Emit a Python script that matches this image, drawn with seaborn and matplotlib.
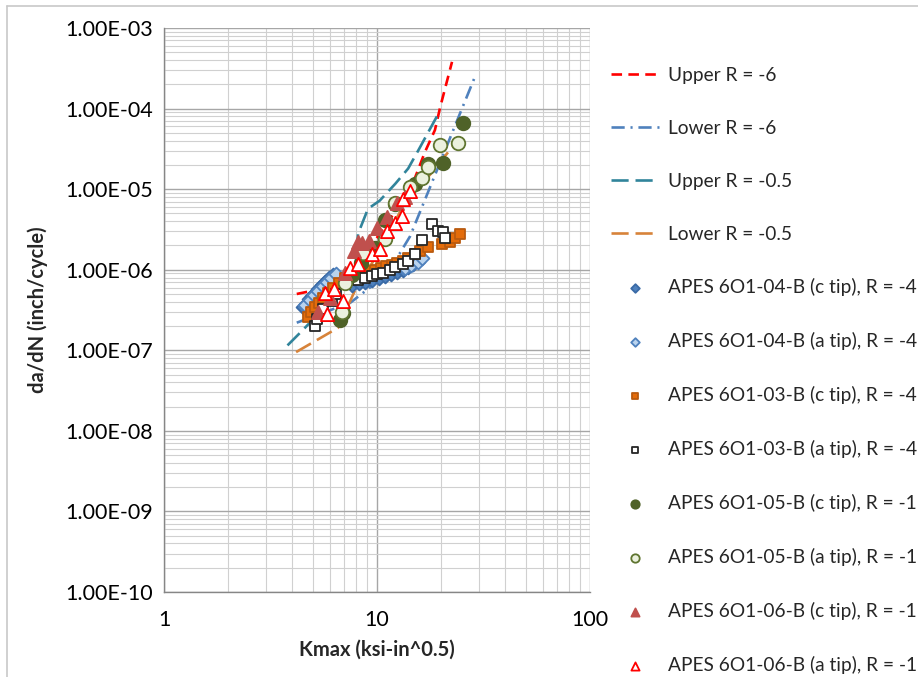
import numpy as np
import pandas as pd
import matplotlib
matplotlib.use("Agg")
import matplotlib.pyplot as plt
from matplotlib.lines import Line2D
from matplotlib.ticker import FixedLocator, FixedFormatter, LogLocator, NullFormatter
import seaborn as sns

# ---------------- data ----------------
# trend bands
upper_r6_k = [4.2, 5.0, 6.0, 7.5, 10.0, 12.0, 14.3, 16.8, 18.7, 19.8, 22.5]
upper_r6_v = [5.0e-7, 5.5e-7, 6.3e-7, 1.0e-6, 2.5e-6, 5.0e-6, 9.6e-6, 2.9e-5, 5.4e-5, 1.04e-4, 3.8e-4]

lower_r6_k = [4.2, 7.5, 9.7, 12.8, 14.3, 29.2]
lower_r6_v = [2.2e-7, 3.9e-7, 6.6e-7, 1.6e-6, 2.6e-6, 2.7e-4]

upper_r05_k = [3.8, 4.5, 6.0, 7.9, 8.15, 9.07, 10.3, 12.2, 14.0, 15.6, 19.8]
upper_r05_v = [1.15e-7, 1.8e-7, 4.0e-7, 1.0e-6, 2.8e-6, 5.7e-6, 7.2e-6, 1.17e-5, 1.8e-5, 3.0e-5, 9.5e-5]

lower_r05_k = [4.17, 6.56, 8.06, 10.0, 14.3, 17.7, 22.7, 24.0]
lower_r05_v = [9.5e-8, 1.9e-7, 6.3e-7, 1.5e-6, 9.0e-6, 1.5e-5, 3.4e-5, 4.0e-5]

# specimen 6O1-04-B
s04c_k = [4.50, 4.65, 4.80, 4.95, 5.10, 5.30, 5.50, 5.70, 5.95, 6.20,
          7.6, 8.2, 8.8, 9.5, 10.2, 10.9, 11.6, 12.4, 13.2, 14.0, 14.8, 15.6]
s04c_v = [3.4e-7, 3.8e-7, 4.3e-7, 4.7e-7, 5.2e-7, 5.8e-7, 6.4e-7, 7.1e-7, 7.8e-7, 8.6e-7,
          6.4e-7, 6.8e-7, 7.1e-7, 7.5e-7, 7.9e-7, 8.3e-7, 8.8e-7, 9.3e-7, 1.0e-6, 1.08e-6, 1.17e-6, 1.28e-6]
s04a_k = [4.6, 4.85, 5.05, 5.3, 5.55, 5.8, 6.1, 6.4, 13.5, 14.5, 15.5, 16.3]
s04a_v = [3.6e-7, 4.2e-7, 4.9e-7, 5.5e-7, 6.2e-7, 7.0e-7, 8.0e-7, 8.8e-7, 1.05e-6, 1.15e-6, 1.25e-6, 1.38e-6]

# specimen 6O1-03-B
s03c_k = [4.75, 4.9, 5.1, 5.35, 5.6, 5.9, 6.2, 6.6, 7.1, 7.7, 8.2, 8.7, 9.2, 9.8, 10.4,
          11.0, 11.7, 12.4, 13.2, 14.0, 15.0, 16.0, 17.4, 20.2, 22.0, 23.2, 24.5]
s03c_v = [2.6e-7, 3.0e-7, 3.4e-7, 3.9e-7, 4.5e-7, 5.2e-7, 6.0e-7, 6.9e-7, 7.8e-7, 8.4e-7, 8.8e-7,
          9.2e-7, 9.6e-7, 1.0e-6, 1.05e-6, 1.1e-6, 1.15e-6, 1.22e-6, 1.3e-6, 1.4e-6, 1.55e-6,
          1.7e-6, 1.9e-6, 2.1e-6, 2.22e-6, 2.5e-6, 2.8e-6]
s03a_k = [5.12, 5.2, 5.6, 6.14, 6.4, 7.07, 8.15, 8.78, 9.48, 10.0, 10.7, 11.5, 12.2, 13.2,
          14.0, 15.1, 16.3, 18.1, 19.4, 20.4, 20.8]
s03a_v = [2.0e-7, 2.45e-7, 3.3e-7, 4.1e-7, 5.0e-7, 6.7e-7, 7.5e-7, 7.9e-7, 8.4e-7, 8.9e-7,
          9.1e-7, 1.0e-6, 1.09e-6, 1.18e-6, 1.29e-6, 1.58e-6, 2.36e-6, 3.7e-6, 3.05e-6, 2.9e-6, 2.5e-6]

# specimen 6O1-05-B
s05c_k = [6.7, 6.9, 7.6, 8.4, 9.79, 10.9, 12.2, 15.1, 17.4, 20.4, 25.3]
s05c_v = [2.4e-7, 2.9e-7, 8.5e-7, 1.2e-6, 1.88e-6, 4.1e-6, 6.6e-6, 1.17e-5, 2.08e-5, 2.1e-5, 6.6e-5]
s05a_k = [6.85, 7.07, 8.6, 10.9, 12.2, 14.3, 16.3, 17.4, 19.8, 24.0]
s05a_v = [3.0e-7, 6.9e-7, 1.6e-6, 2.4e-6, 6.8e-6, 1.05e-5, 1.39e-5, 1.86e-5, 3.5e-5, 3.7e-5]

# specimen 6O1-06-B
s06c_k = [5.3, 6.0, 7.07, 7.8, 8.15, 8.51, 9.2, 10.0, 11.2, 12.4, 13.5]
s06c_v = [3.0e-7, 4.5e-7, 9.1e-7, 1.7e-6, 2.2e-6, 2.16e-6, 2.3e-6, 3.3e-6, 4.5e-6, 6.8e-6, 8.0e-6]
s06a_k = [5.8, 5.7, 6.3, 6.9, 7.47, 8.15, 9.48, 10.3, 11.1, 12.2, 13.1, 13.2, 14.3]
s06a_v = [2.8e-7, 5.2e-7, 5.7e-7, 4.1e-7, 1.06e-6, 1.18e-6, 1.58e-6, 1.82e-6, 3.05e-6,
          3.8e-6, 4.7e-6, 7.6e-6, 9.6e-6]

x_ticks = [1, 10, 100]
x_tick_labels = ["1", "10", "100"]
y_ticks = [1e-10, 1e-9, 1e-8, 1e-7, 1e-6, 1e-5, 1e-4, 1e-3]
y_tick_labels = ["1.00E-10", "1.00E-09", "1.00E-08", "1.00E-07",
                 "1.00E-06", "1.00E-05", "1.00E-04", "1.00E-03"]

# ---------------- figure ----------------
sns.set_style("white")
plt.rcParams["font.family"] = ["Lato", "DejaVu Sans"]

fig = plt.figure(figsize=(9.18, 6.77), dpi=100)
ax = fig.add_axes([164 / 918, 1 - 592 / 677, (590 - 164) / 918, (592 - 28) / 677])
ax.set_xscale("log")
ax.set_yscale("log")
ax.set_xlim(1, 100)
ax.set_ylim(1e-10, 1e-3)

# gridlines
ax.xaxis.set_minor_locator(LogLocator(base=10, subs=np.arange(2, 10)))
ax.yaxis.set_minor_locator(LogLocator(base=10, subs=np.arange(2, 10), numticks=20))
ax.grid(which="major", color="#a6a6a6", linewidth=1.0)
ax.grid(which="minor", color="#d0d0d0", linewidth=0.8)
ax.set_axisbelow(True)

trend_lines = [
    (upper_r6_k, upper_r6_v, "Upper R = -6", "#ff0000", (0, (4.0, 2.4)), 1.9),
    (lower_r6_k, lower_r6_v, "Lower R = -6", "#4f81bd", (0, (5.0, 2.2, 0.8, 2.2)), 1.9),
    (upper_r05_k, upper_r05_v, "Upper R = -0.5", "#31849b", (0, (6.5, 2.6)), 1.9),
    (lower_r05_k, lower_r05_v, "Lower R = -0.5", "#d7833a", (0, (6.5, 2.6)), 1.9),
]
for k, v, name, col, ls, lw in trend_lines:
    df = pd.DataFrame({"K": k, "dadN": v})
    sns.lineplot(data=df, x="K", y="dadN", ax=ax, color=col, linestyle=ls,
                 linewidth=lw, sort=False, label=name, legend=False)

specimens = [
    (s04c_k, s04c_v, "APES 6O1-04-B (c tip), R = -4", "D", "#4f81bd", "#3a6aa6", 50),
    (s04a_k, s04a_v, "APES 6O1-04-B (a tip), R = -4", "D", "#b9d3ee", "#4f81bd", 50),
    (s03c_k, s03c_v, "APES 6O1-03-B (c tip), R = -4", "s", "#e46c0a", "#b95a0f", 62),
    (s03a_k, s03a_v, "APES 6O1-03-B (a tip), R = -4", "s", "#ffffff", "#262626", 62),
    (s05c_k, s05c_v, "APES 6O1-05-B (c tip), R = -1", "o", "#4f6228", "#4f6228", 95),
    (s05a_k, s05a_v, "APES 6O1-05-B (a tip), R = -1", "o", "#ebf1de", "#5f7530", 95),
    (s06c_k, s06c_v, "APES 6O1-06-B (c tip), R = -1", "^", "#c0504d", "#c0504d", 90),
    (s06a_k, s06a_v, "APES 6O1-06-B (a tip), R = -1", "^", "#ffffff", "#ff0000", 90),
]
for k, v, name, mk, fc, ec, sz in specimens:
    df = pd.DataFrame({"K": k, "dadN": v})
    sns.scatterplot(data=df, x="K", y="dadN", ax=ax, marker=mk, color=fc,
                    edgecolor=ec, linewidth=1.3, s=sz, label=name, legend=False, zorder=3)

# axes styling
ax.xaxis.set_major_locator(FixedLocator(x_ticks))
ax.xaxis.set_major_formatter(FixedFormatter(x_tick_labels))
ax.xaxis.set_minor_formatter(NullFormatter())
ax.yaxis.set_major_locator(FixedLocator(y_ticks))
ax.yaxis.set_major_formatter(FixedFormatter(y_tick_labels))
ax.yaxis.set_minor_formatter(NullFormatter())
ax.tick_params(axis="both", which="major", length=5, width=1, color="#868686",
               labelsize=15.5, labelcolor="#000000", direction="out", pad=3)
ax.tick_params(axis="both", which="minor", length=0)
ax.tick_params(axis="x", pad=8)
for side in ["left", "bottom"]:
    ax.spines[side].set_color("#868686")
    ax.spines[side].set_linewidth(1.0)
for side in ["top", "right"]:
    ax.spines[side].set_visible(False)

ax.set_xlabel("Kmax (ksi-in^0.5)", fontsize=14.5, fontweight="bold", labelpad=7)
ax.set_ylabel("da/dN (inch/cycle)", fontsize=14.5, fontweight="bold", labelpad=12)

handles, labels = ax.get_legend_handles_labels()
leg = fig.legend(handles, labels, loc="upper left",
                 bbox_to_anchor=(611 / 918, 1 - 67 / 677),
                 frameon=False, fontsize=13.8, handlelength=2.5, handletextpad=0.5,
                 labelspacing=1.87, markerscale=0.62, borderaxespad=0, borderpad=0)

# chart border
fig.add_artist(Line2D([7 / 918, 7 / 918], [0, 1 - 6 / 677], color="#c8c8c8", lw=1.2))
fig.add_artist(Line2D([7 / 918, 1], [1 - 6 / 677, 1 - 6 / 677], color="#c8c8c8", lw=1.2))

fig.savefig("out.png", dpi=100)
